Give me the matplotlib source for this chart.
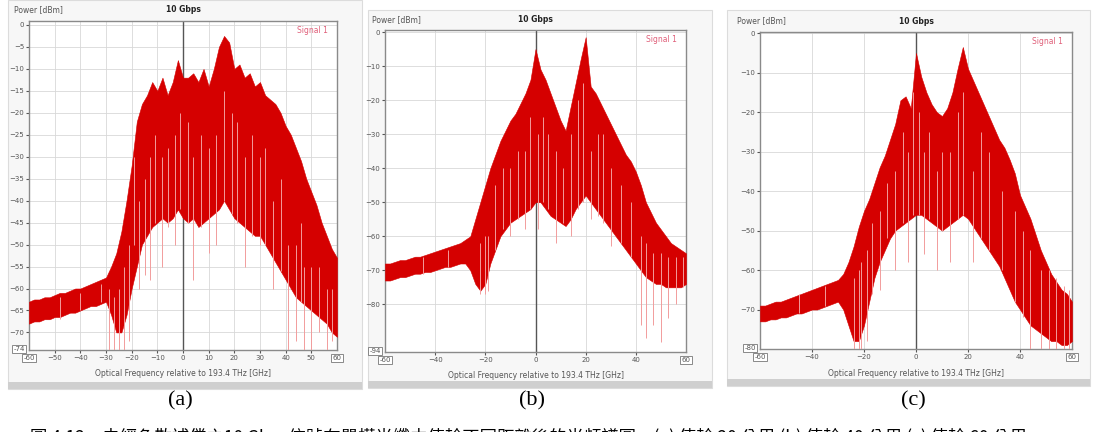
import matplotlib.pyplot as plt
from matplotlib.patches import Rectangle

# frequency grid (GHz, relative to 193.4 THz)
freq = list(range(-60, 61, 2))

# upper / lower edge of the red trace band, dBm
a_upper = [-63, -62.5, -62.5, -62, -62, -61.5, -61, -61, -60.5, -60, -60, -59.5, -59, -58.5, -58, -57.5,
           -55, -52, -47, -40, -32, -22, -18, -16, -13, -15, -12, -16, -13, -8, -12, -12, -11, -13, -10,
           -14, -10, -5, -2.5, -4, -10, -9, -12, -11, -14, -13, -16, -17, -18, -20, -23, -25, -28, -31,
           -35, -38, -41, -45, -48, -51, -53]
a_lower = [-68, -67.5, -67.5, -67, -67, -66.5, -66.5, -66, -65.5, -65.5, -65, -64.5, -64, -64, -63.5, -63,
           -66, -70, -70, -66, -60, -55, -50, -48, -46, -45, -44, -45, -44, -42, -44, -45, -44, -46, -45,
           -44, -43, -42, -40, -42, -44, -45, -46, -47, -48, -48, -50, -52, -54, -56, -58, -60, -62, -63,
           -64, -65, -66, -67, -68, -70, -71]
b_upper = [-68, -68, -67.5, -67, -67, -66.5, -66, -66, -65.5, -65, -64.5, -64, -63.5, -63, -62.5, -62,
           -61, -60, -55, -50, -45, -40, -36, -32, -29, -26, -24, -21, -18, -14, -5, -11, -14, -18, -22,
           -26, -29, -22, -15, -8, -1.5, -16, -18, -21, -24, -27, -30, -33, -36, -38, -41, -45, -50, -53,
           -56, -58, -60, -62, -63, -64, -65]
b_lower = [-73, -73, -72.5, -72, -72, -71.5, -71, -71, -70.5, -70.5, -70, -69.5, -69, -69, -68.5, -68,
           -68, -70, -74, -76, -74, -68, -64, -60, -58, -56, -55, -54, -53, -52, -50, -50, -52, -54, -55,
           -56, -57, -55, -52, -50, -48, -50, -52, -54, -56, -58, -60, -62, -64, -66, -68, -70, -72, -73,
           -74, -74, -75, -75, -75, -75, -74]
c_upper = [-69, -69, -68.5, -68, -68, -67.5, -67, -66.5, -66, -65.5, -65, -64.5, -64, -63.5, -63, -62.5,
           -61, -58, -54, -49, -45, -42, -38, -34, -31, -27, -23, -17, -16, -19, -5, -11, -15, -18, -20,
           -21, -19, -15, -9, -3.5, -9, -12, -15, -18, -21, -24, -27, -29, -32, -35.5, -41, -44, -47, -51,
           -55, -58, -61, -63, -65, -66, -68]
c_lower = [-73, -73, -72.5, -72.5, -72, -72, -71.5, -71, -71, -70.5, -70, -70, -69.5, -69, -68.5, -68,
           -70, -74, -78, -78, -74, -68, -62, -58, -55, -52, -50, -49, -48, -47, -46, -46, -47, -48, -49,
           -50, -49, -48, -47, -46, -47, -49, -51, -53, -55, -57, -59, -62, -65, -68, -70, -72, -74, -75,
           -76, -77, -78, -78, -79, -79, -78]

# deep notches and light streaks in the trace (freq, top, bottom)
a_dips = [(-29, -60, -75), (-27, -62, -75), (-25, -60, -75), (-23, -55, -75), (-21, -50, -72),
          (-17, -40, -60), (-15, -35, -57), (-13, -30, -58), (-8, -30, -55), (-3, -25, -50), (4, -30, -58),
          (10, -28, -52), (13, -25, -50), (24, -30, -55), (35, -40, -60), (41, -50, -75), (44, -50, -72),
          (47, -55, -75), (50, -55, -75), (53, -55, -70), (56, -60, -75),
          (-19, -30, -50), (-11, -25, -45), (-6, -28, -46), (-1, -20, -42), (2, -22, -45), (7, -25, -46),
          (16, -15, -40), (19, -20, -43), (21, -22, -45), (27, -25, -48), (30, -30, -50), (32, -28, -50),
          (38, -35, -56), (46, -45, -63), (58, -60, -72), (-32, -59, -63), (-40, -61, -65), (-48, -62, -67)]
b_dips = [(-22, -62, -77), (-20, -60, -77), (-19, -60, -76), (-10, -40, -60), (-4, -35, -58),
          (1, -30, -58), (8, -35, -62), (14, -30, -60), (22, -35, -55), (30, -40, -63), (42, -60, -86),
          (44, -62, -90), (47, -65, -86), (50, -65, -91), (53, -66, -84), (56, -66, -80),
          (-16, -45, -64), (-13, -40, -58), (-7, -35, -55), (-2, -25, -52), (3, -25, -50), (5, -30, -52),
          (11, -40, -56), (17, -20, -52), (19, -15, -50), (25, -30, -54), (27, -30, -56), (34, -45, -62),
          (38, -50, -66), (-35, -64, -69), (-45, -66, -71), (59, -66, -75)]
c_dips = [(-24, -62, -80), (-22, -60, -80), (-21, -58, -80), (-19, -55, -78), (-14, -45, -65),
          (-8, -35, -60), (-3, -30, -58), (3, -30, -56), (8, -35, -60), (13, -30, -58), (22, -35, -58),
          (44, -55, -80), (48, -60, -80), (51, -60, -80), (54, -62, -80), (57, -64, -80), (59, -65, -80),
          (-17, -48, -66), (-11, -38, -52), (-5, -25, -48), (-1, -15, -46), (1, -20, -46), (5, -25, -47),
          (10, -30, -50), (16, -20, -47), (18, -15, -46), (25, -25, -52), (28, -30, -55), (33, -40, -60),
          (38, -45, -68), (41, -50, -72), (-35, -64, -69), (-45, -66, -71)]

letters = ["(a)", "(b)", "(c)"]
caption = "圖 4.12　未經色散補償之10 Gbps信號在單模光纖中傳輸不同距離後的光頻譜圖，(a) 傳輸 20 公里 (b) 傳輸 40 公里 (c) 傳輸 60 公里"

W, H = 1096, 432
fig = plt.figure(figsize=(W / 100, H / 100), dpi=100)


def fx(px):
    return px / W


def fy(py):
    return 1 - py / H


panels = [
    dict(win=(8, 0, 362, 389), ax=(29, 21, 337, 350), ylim=(-74, 0.9), ystep=5, ylast=-70, xstep=10,
         ybox="-74", ty=10, px=14, up=a_upper, lo=a_lower, dips=a_dips),
    dict(win=(368, 10, 712, 388), ax=(385, 30, 686, 352), ylim=(-94, 0.6), ystep=10, ylast=-80, xstep=20,
         ybox="-94", ty=20, px=372, up=b_upper, lo=b_lower, dips=b_dips),
    dict(win=(727, 10, 1090, 386), ax=(760, 32, 1072, 349), ylim=(-80, 0.3), ystep=10, ylast=-70, xstep=20,
         ybox="-80", ty=21, px=737, up=c_upper, lo=c_lower, dips=c_dips),
]

red = "#d50000"
pink = "#f29c9c"
grey = "#555555"

for i, p in enumerate(panels):
    x0, y0, x1, y1 = p["win"]
    fig.patches.append(Rectangle((fx(x0), fy(y1)), fx(x1 - x0), (y1 - y0) / H, transform=fig.transFigure,
                                 facecolor="#f7f7f7", edgecolor="#dcdcdc", lw=0.8, zorder=-10))
    fig.patches.append(Rectangle((fx(x0), fy(y1)), fx(x1 - x0), 7 / H, transform=fig.transFigure,
                                 facecolor="#cfcfcf", edgecolor="none", zorder=-9))

    a0, b0, a1, b1 = p["ax"]
    ax = fig.add_axes([fx(a0), fy(b1), fx(a1 - a0), (b1 - b0) / H])
    ax.set_zorder(1)
    ax.set_facecolor("white")
    ax.set_xlim(-60, 60)
    ax.set_ylim(*p["ylim"])

    ax.fill_between(freq, p["lo"], p["up"], color=red, lw=0.4, zorder=3)
    for f, top, bot in p["dips"]:
        ax.vlines(f, bot, top, color=pink, lw=0.7, zorder=4)

    xt = list(range(-60 + p["xstep"], 60, p["xstep"]))
    yt = list(range(0, p["ylast"] - 1, -p["ystep"]))
    ax.set_xticks(xt)
    ax.set_yticks(yt)
    ax.tick_params(labelsize=5, colors=grey, length=2, pad=1.5)
    ax.grid(color="#d8d8d8", lw=0.6, zorder=1)
    ax.axvline(0, color="#555555", lw=1.0, zorder=2)
    for s in ax.spines.values():
        s.set_color("#8a8a8a")
        s.set_linewidth(1.0)

    bb = dict(boxstyle="square,pad=0.15", facecolor="white", edgecolor="#777777", lw=0.6)
    ax.annotate("-60", (-60, p["ylim"][0]), xytext=(0, -3.5), textcoords="offset points",
                ha="center", va="top", fontsize=5, color=grey, bbox=bb, zorder=6, annotation_clip=False)
    ax.annotate("60", (60, p["ylim"][0]), xytext=(0, -3.5), textcoords="offset points",
                ha="center", va="top", fontsize=5, color=grey, bbox=bb, zorder=6, annotation_clip=False)
    ax.annotate(p["ybox"], (-60, p["ylim"][0]), xytext=(-3, 1), textcoords="offset points",
                ha="right", va="center", fontsize=5, color=grey, bbox=bb, zorder=6, annotation_clip=False)

    ax.text(0.97, 0.985, "Signal 1", transform=ax.transAxes, ha="right", va="top",
            fontsize=5.5, color="#e0607a")
    cx = (a0 + a1) / 2
    fig.text(fx(cx), fy(p["ty"]), "10 Gbps", ha="center", va="center", fontsize=5.5,
             fontweight="bold", color="#222222")
    fig.text(fx(p["px"]), fy(p["ty"]), "Power [dBm]", ha="left", va="center", fontsize=5.5, color=grey)
    fig.text(fx(cx), fy(b1 + 24), "Optical Frequency relative to 193.4 THz [GHz]", ha="center",
             va="center", fontsize=5.5, color=grey)

    fig.text(fx(cx - 3), fy(401), letters[i], ha="center", va="center", fontsize=16,
             family="Liberation Serif")

fig.text(fx(30), fy(427.5), caption, ha="left", va="top", fontsize=12.5,
         family=["Noto Sans CJK TC", "DejaVu Sans"])

fig.savefig("out.png", dpi=100)
